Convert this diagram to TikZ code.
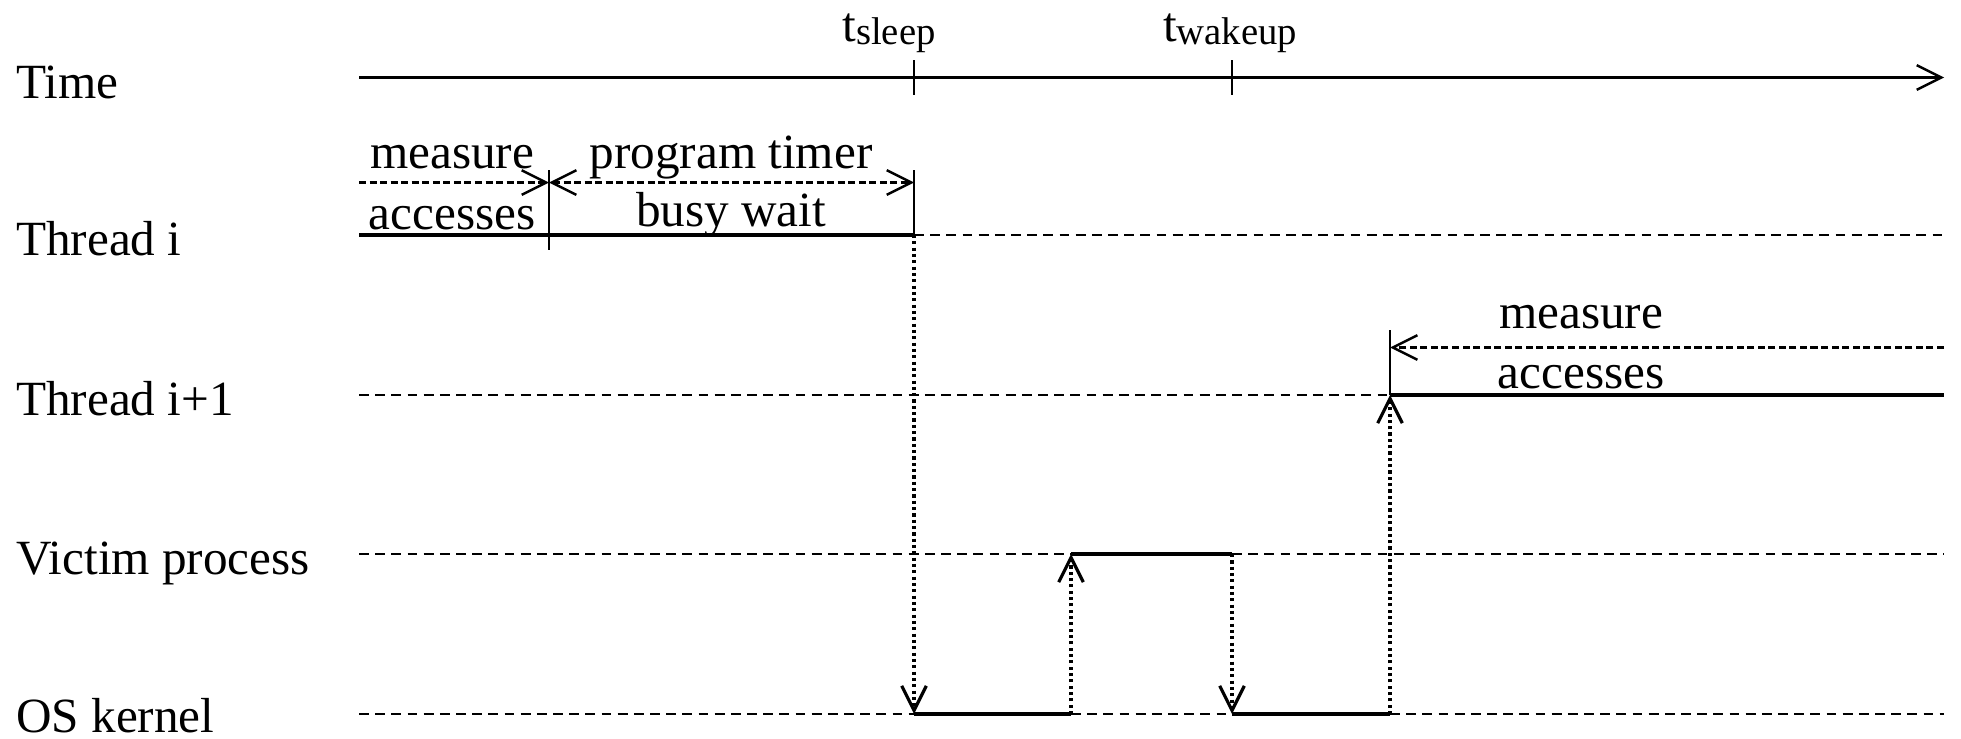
\documentclass[tikz,border=0pt]{standalone}
\usepackage{fontspec}
\setmainfont{Liberation Serif}
\usetikzlibrary{arrows.meta}
\tikzset{
  idle/.style={dash pattern=on 2.8pt off 1.8pt},
  busy/.style={line width=1.2pt},
  hint/.style={dash pattern=on 2pt off 1pt,->},
  wake/.style={line width=.9pt,dash pattern=on .9pt off .9pt,->},
  lane/.style={anchor=base west,inner sep=0pt},
  sub/.style={anchor=base}
}
\newcommand{\tsub}[1]{t\raisebox{-1pt}{\fontsize{11}{12}\selectfont #1}}
\begin{document}
\begin{tikzpicture}[x=1cm,y=1cm,>={Straight Barb[length=7pt,width=7pt]},line width=.7pt,font=\fontsize{14}{16}\selectfont]
  \useasboundingbox (0,0) rectangle (19.61,7.38);
  % time axis and instants
  \coordinate (t0) at (3.59,6.605);
  \coordinate (tend) at (19.44,6.605);
  \coordinate (ts) at (9.14,6.605);
  \coordinate (tw) at (12.32,6.605);
  \coordinate (xa) at (5.49,0);
  \coordinate (xv) at (10.71,0);
  \coordinate (xb) at (13.90,0);
  % lanes
  \coordinate (ra) at (3.59,5.03);
  \coordinate (rb) at (3.59,3.43);
  \coordinate (rv) at (3.59,1.84);
  \coordinate (rk) at (3.59,0.24);
  \coordinate (ea) at (19.44,5.03);
  \coordinate (eb) at (19.44,3.43);
  \coordinate (ev) at (19.44,1.84);
  \coordinate (ek) at (19.44,0.24);

  \node[lane] (ltime) at (0.15,6.40) {Time};
  \node[lane] (lthra) at (0.15,4.83) {Thread i};
  \node[lane] (lthrb) at (0.15,3.23) {Thread i+1};
  \node[lane] (lvic) at (0.15,1.64) {Victim process};
  \node[lane] (los) at (0.15,0.06) {OS kernel};

  \draw[->] (t0)--(tend);
  \draw ([yshift=.175cm]ts)--([yshift=-.175cm]ts);
  \draw ([yshift=.175cm]tw)--([yshift=-.175cm]tw);
  \node[sub] (nsleep) at (8.89,6.97) {\tsub{sleep}};
  \node[sub] (nwake) at (12.30,6.97) {\tsub{wakeup}};

  % thread i
  \draw[busy] (ra)--(ts |- ra);
  \draw[idle] (ts |- ra)--(ea);
  \draw ([yshift=.65cm]xa |- ra)--([yshift=-.15cm]xa |- ra);
  \draw ([yshift=.65cm]ts |- ra)--(ts |- ra);
  \draw[hint] ([yshift=.525cm]ra)--([yshift=.525cm]xa |- ra);
  \draw[hint,<->] ([yshift=.525cm]xa |- ra)--([yshift=.525cm]ts |- ra);
  \node[sub] (ma) at (4.52,5.70) {measure};
  \node[sub] (aa) at (4.52,5.09) {accesses};
  \node[sub] (pt) at (7.31,5.70) {program timer};
  \node[sub] (bw) at (7.31,5.115) {busy wait};

  % thread i+1
  \draw[idle] (rb)--(xb |- rb);
  \draw[busy] (xb |- rb)--(eb);
  \draw ([yshift=.65cm]xb |- rb)--(xb |- rb);
  \draw[hint] ([yshift=.475cm]eb)--([yshift=.475cm]xb |- rb);
  \node[sub] (mb) at (15.81,4.10) {measure};
  \node[sub] (ab) at (15.81,3.50) {accesses};

  % victim process
  \draw[idle] (rv)--(xv |- rv);
  \draw[busy] (xv |- rv)--(tw |- rv);
  \draw[idle] (tw |- rv)--(ev);

  % OS kernel
  \draw[idle] (rk)--(ts |- rk);
  \draw[busy] (ts |- rk)--(xv |- rk);
  \draw[idle] (xv |- rk)--(tw |- rk);
  \draw[busy] (tw |- rk)--(xb |- rk);
  \draw[idle] (xb |- rk)--(ek);

  % switches
  \draw[wake] (ts |- ra)--(ts |- rk);
  \draw[wake] (xv |- rk)--(xv |- rv);
  \draw[wake] (tw |- rv)--(tw |- rk);
  \draw[wake] (xb |- rk)--(xb |- rb);
\end{tikzpicture}
\end{document}
